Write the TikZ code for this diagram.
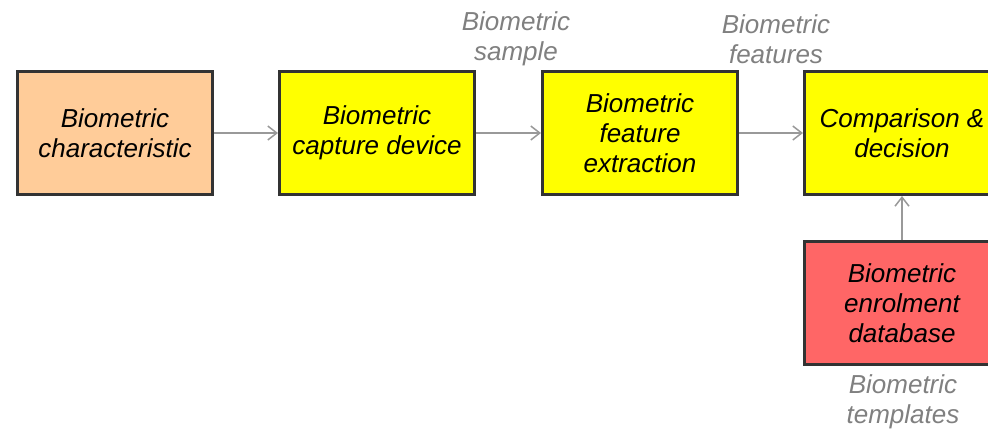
\documentclass[tikz,border=0pt]{standalone}
\usepackage{fontspec}
\setmainfont{Liberation Sans}
\usetikzlibrary{arrows.meta}
\definecolor{peach}{HTML}{FFCC99}
\definecolor{yel}{HTML}{FFFF00}
\definecolor{redb}{HTML}{FF6666}
\definecolor{edge}{HTML}{333333}
\definecolor{conn}{HTML}{999999}
\definecolor{lbl}{HTML}{808080}
\begin{document}
\begin{tikzpicture}[x=1pt,y=-1pt,
  blk/.style={draw=edge,line width=3pt,minimum width=195pt,minimum height=123pt,
    inner sep=0pt,align=center,font=\fontsize{26}{30}\selectfont\itshape,text=black},
  lab/.style={align=center,font=\fontsize{26}{30}\selectfont\itshape,text=lbl},
  conn/.style={draw=conn,line width=1.5pt,-{Straight Barb[length=9pt,width=14pt,line width=1.5pt]}}]
\useasboundingbox (0,0) rectangle (988,429);
\node[blk,fill=peach] (c) at (115,133) {Biometric\\characteristic};
\node[blk,fill=yel] (cap) at (377,133) {Biometric\\capture device};
\node[blk,fill=yel] (fe) at (640,133) {Biometric\\feature\\extraction};
\node[blk,fill=yel] (cmp) at (902,133) {Comparison \&\\decision};
\node[blk,fill=redb] (db) at (902,303) {Biometric\\enrolment\\database};
\node[lab] (ls) at (516,39) {Biometric\\sample};
\node[lab] (lf) at (776,39) {Biometric\\features};
\node[lab] (lt) at (903,402) {Biometric\\templates};
\draw[conn] (c.east) -- (cap.west);
\draw[conn] (cap.east) -- (fe.west);
\draw[conn] (fe.east) -- (cmp.west);
\draw[conn] (db.north) -- (cmp.south);
\end{tikzpicture}
\end{document}
